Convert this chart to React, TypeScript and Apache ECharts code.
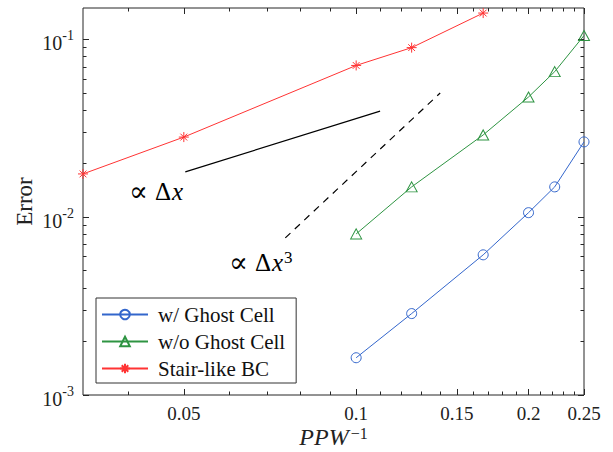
import React, { useEffect, useRef } from "react";
import * as echarts from "echarts";

// ---- data ----
const X_MIN = 1 / 30;
const X_MAX = 0.25;
const Y_MIN = 0.001;
const Y_MAX = 0.15;

const ghostX = [0.1, 0.125, 1 / 6, 0.2, 2 / 9, 0.25];
const ghostY = [0.00162, 0.00287, 0.00614, 0.0106, 0.0148, 0.0265];

const noGhostX = [0.1, 0.125, 1 / 6, 0.2, 2 / 9, 0.25];
const noGhostY = [0.00805, 0.0148, 0.029, 0.0474, 0.0658, 0.105];

const stairX = [1 / 30, 0.05, 0.1, 0.125, 1 / 6];
const stairY = [0.0175, 0.0282, 0.0713, 0.0898, 0.1405];

// reference slope lines
const slope1X = [0.0503, 0.1101];
const slope1Y = [0.01797, 0.0395];
const slope3X = [0.0752, 0.1402];
const slope3Y = [0.00765, 0.0499];

const seriesNames = ["w/ Ghost Cell", "w/o Ghost Cell", "Stair-like BC"];

const xMajorTicks = [0.05, 0.1, 0.15, 0.2, 0.25];
const xMinorTicks = [
  0.04, 0.06, 0.07, 0.08, 0.09, 0.11, 0.12, 0.13, 0.14, 0.16, 0.17, 0.18,
  0.19, 0.21, 0.22, 0.23, 0.24,
];
const yMajorTicks = [0.001, 0.01, 0.1];
const yMinorTicks = [
  0.002, 0.003, 0.004, 0.005, 0.006, 0.007, 0.008, 0.009, 0.02, 0.03, 0.04,
  0.05, 0.06, 0.07, 0.08, 0.09,
];

const SERIF = "Liberation Serif";
const MATH = "DejaVu Serif";
const AXIS_COLOR = "#262626";
const BLUE = "#3366CC";
const GREEN = "#2E9442";
const RED = "#FF3333";

const ASTERISK =
  "path://M5,0L5,10M0,5L10,5M1.6,1.6L8.4,8.4M1.6,8.4L8.4,1.6";

const pairs = (xs: number[], ys: number[]) => xs.map((x, i) => [x, ys[i]]);

function xAxisDef(position: "bottom" | "top", ticks: number[], len: number, labels: boolean) {
  return {
    type: "log",
    logBase: 10,
    position,
    min: X_MIN,
    max: X_MAX,
    axisLine: { show: false },
    splitLine: { show: false },
    minorTick: { show: false },
    axisTick: {
      show: true,
      inside: true,
      length: len,
      customValues: ticks,
      lineStyle: { color: AXIS_COLOR, width: 1 },
    },
    axisLabel: labels
      ? {
          show: true,
          customValues: ticks,
          margin: 9,
          fontFamily: SERIF,
          fontSize: 19,
          color: "#222",
          formatter: (v: number) => String(Number(v.toPrecision(3))),
        }
      : { show: false },
    ...(labels
      ? {
          name: "{i|PPW}{s|−1}",
          nameLocation: "middle",
          nameGap: 30,
          nameMoveOverlap: false,
          nameTextStyle: {
            rich: {
              i: { fontFamily: SERIF, fontStyle: "italic", fontSize: 24, color: "#222", lineHeight: 24 },
              s: { fontFamily: SERIF, fontSize: 16, color: "#222", verticalAlign: "top", lineHeight: 14, padding: [0, 0, 0, 2] },
            },
          },
        }
      : {}),
  };
}

function yAxisDef(position: "left" | "right", ticks: number[], len: number, labels: boolean) {
  return {
    type: "log",
    logBase: 10,
    position,
    min: Y_MIN,
    max: Y_MAX,
    axisLine: { show: false },
    splitLine: { show: false },
    minorTick: { show: false },
    axisTick: {
      show: true,
      inside: true,
      length: len,
      customValues: ticks,
      lineStyle: { color: AXIS_COLOR, width: 1 },
    },
    axisLabel: labels
      ? {
          show: true,
          customValues: ticks,
          margin: 9,
          formatter: (v: number) => `{b|10}{s|${Math.round(Math.log10(v))}}`,
          rich: {
            b: { fontFamily: SERIF, fontSize: 20, color: "#222", lineHeight: 22, padding: [8, 0, 0, 0] },
            s: { fontFamily: SERIF, fontSize: 14, color: "#222", verticalAlign: "top", lineHeight: 14 },
          },
        }
      : { show: false },
    ...(labels
      ? {
          name: "Error",
          nameLocation: "middle",
          nameGap: 47,
          nameRotate: 90,
          nameMoveOverlap: false,
          nameTextStyle: { fontFamily: SERIF, fontSize: 23, color: "#222" },
        }
      : {}),
  };
}

export default function App() {
  const ref = useRef<HTMLDivElement>(null);

  useEffect(() => {
    document.body.style.margin = "0";
    if (!ref.current) return;
    const chart = echarts.init(ref.current, undefined, { renderer: "svg" });

    const markerBase = { color: "none", borderWidth: 1 };

    chart.setOption({
      animation: false,
      backgroundColor: "#fff",
      textStyle: { fontFamily: SERIF },
      grid: {
        left: 83,
        right: 29,
        top: 8,
        bottom: 57,
        outerBoundsMode: "none",
        containLabel: false,
        show: true,
        borderColor: AXIS_COLOR,
        borderWidth: 1,
        backgroundColor: "#fff",
      },
      xAxis: [
        xAxisDef("bottom", xMajorTicks, 6, true),
        xAxisDef("bottom", xMinorTicks, 3.5, false),
        xAxisDef("top", xMajorTicks, 6, false),
        xAxisDef("top", xMinorTicks, 3.5, false),
      ],
      yAxis: [
        yAxisDef("left", yMajorTicks, 6, true),
        yAxisDef("left", yMinorTicks, 3.5, false),
        yAxisDef("right", yMajorTicks, 6, false),
        yAxisDef("right", yMinorTicks, 3.5, false),
      ],
      legend: {
        data: seriesNames,
        orient: "vertical",
        left: 96,
        top: 298,
        itemWidth: 46,
        itemHeight: 12,
        itemGap: 6,
        padding: [6, 11, 4, 5],
        borderColor: "#333",
        borderWidth: 1,
        backgroundColor: "#fff",
        borderRadius: 0,
        textStyle: { fontFamily: SERIF, fontSize: 21, color: "#111", padding: [0, 0, 0, 5] },
      },
      series: [
        {
          name: seriesNames[0],
          type: "line",
          data: pairs(ghostX, ghostY),
          symbol: "circle",
          symbolSize: 10,
          lineStyle: { color: BLUE, width: 1 },
          itemStyle: { ...markerBase, borderColor: BLUE },
          z: 3,
        },
        {
          name: seriesNames[1],
          type: "line",
          data: pairs(noGhostX, noGhostY),
          symbol: "triangle",
          symbolSize: [11, 10],
          lineStyle: { color: GREEN, width: 1 },
          itemStyle: { ...markerBase, borderColor: GREEN },
          z: 3,
        },
        {
          name: seriesNames[2],
          type: "line",
          data: pairs(stairX, stairY),
          symbol: ASTERISK,
          symbolSize: 10,
          lineStyle: { color: RED, width: 1 },
          itemStyle: { ...markerBase, borderColor: RED },
          z: 3,
        },
        {
          name: "slope1",
          type: "line",
          data: pairs(slope1X, slope1Y),
          symbol: "none",
          lineStyle: { color: "#000", width: 1.2 },
          z: 2,
        },
        {
          name: "slope3",
          type: "line",
          data: pairs(slope3X, slope3Y),
          symbol: "none",
          lineStyle: { color: "#000", width: 1.2, type: [7, 6] },
          z: 2,
        },
      ],
      graphic: [
        {
          type: "text",
          x: 129,
          y: 191,
          style: {
            text: "{m|∝}{a|Δ}{i|x}",
            verticalAlign: "middle",
            rich: {
              m: { fontFamily: MATH, fontSize: 28, fill: "#000", padding: [0, 7, 0, 0], lineHeight: 26 },
              a: { fontFamily: SERIF, fontSize: 25, fill: "#000", lineHeight: 26 },
              i: { fontFamily: SERIF, fontSize: 25, fontStyle: "italic", fill: "#000", lineHeight: 26, padding: [0, 0, 0, 1] },
            },
          },
          z: 10,
        },
        {
          type: "text",
          x: 229,
          y: 262,
          style: {
            text: "{m|∝}{a|Δ}{i|x}{s|3}",
            verticalAlign: "middle",
            rich: {
              m: { fontFamily: MATH, fontSize: 28, fill: "#000", padding: [0, 7, 0, 0], lineHeight: 26 },
              a: { fontFamily: SERIF, fontSize: 25, fill: "#000", lineHeight: 26 },
              i: { fontFamily: SERIF, fontSize: 25, fontStyle: "italic", fill: "#000", lineHeight: 26, padding: [0, 0, 0, 1] },
              s: { fontFamily: SERIF, fontSize: 17, fill: "#000", verticalAlign: "top", lineHeight: 16, padding: [0, 0, 0, 1] },
            },
          },
          z: 10,
        },
      ],
    });

    return () => chart.dispose();
  }, []);

  return <div ref={ref} style={{ width: 613, height: 452 }} />;
}
